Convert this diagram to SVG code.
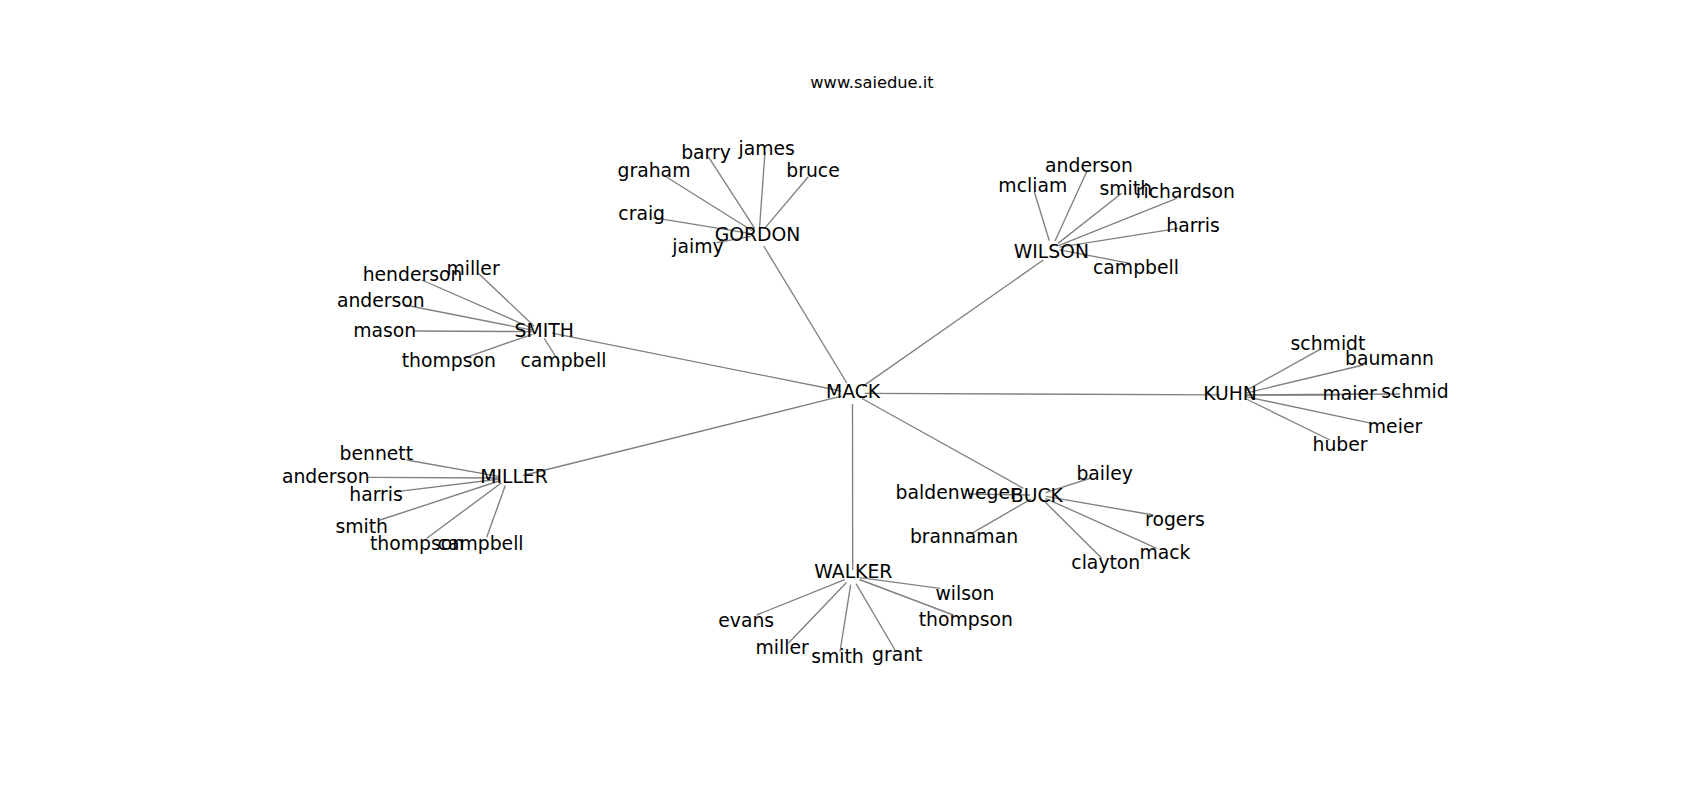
<svg xmlns="http://www.w3.org/2000/svg" width="1700" height="800" viewBox="0 0 1700 800">
<style>
.e{stroke:#808080;stroke-width:1.35;fill:none;stroke-linecap:butt}
.t{font-family:"DejaVu Sans",Verdana,sans-serif;font-size:18.8px;fill:#000;text-anchor:middle}
.title{font-family:"DejaVu Sans",Verdana,sans-serif;font-size:16.3px;fill:#000;text-anchor:middle}
</style>
<rect width="1700" height="800" fill="#fff"/>
<text class="title" x="872" y="88.3">www.saiedue.it</text>
<g id="edges">
<!-- MACK hub -->
<line class="e" x1="846.8" y1="383" x2="763.7" y2="246"/>
<line class="e" x1="862.8" y1="386.4" x2="1043.3" y2="260"/>
<line class="e" x1="841.2" y1="391" x2="552" y2="333.2"/>
<line class="e" x1="865" y1="393.4" x2="1220" y2="394.8"/>
<line class="e" x1="841.4" y1="396.2" x2="523" y2="475.5"/>
<line class="e" x1="862" y1="398.5" x2="1023.3" y2="488.3"/>
<line class="e" x1="852.5" y1="404" x2="852.7" y2="570"/>
<!-- GORDON -->
<line class="e" x1="752.2" y1="230.8" x2="663.3" y2="175"/>
<line class="e" x1="754.7" y1="228.3" x2="708.3" y2="156.7"/>
<line class="e" x1="759.6" y1="227" x2="765" y2="151.7"/>
<line class="e" x1="764.2" y1="228.9" x2="808.3" y2="176.7"/>
<line class="e" x1="751.1" y1="233.7" x2="653" y2="217.7"/>
<line class="e" x1="751.1" y1="236.4" x2="716.7" y2="242.7"/>
<!-- WILSON -->
<line class="e" x1="1055" y1="241" x2="1086.7" y2="171.7"/>
<line class="e" x1="1049.3" y1="240.7" x2="1034.3" y2="191.7"/>
<line class="e" x1="1058" y1="243.4" x2="1121.7" y2="193.3"/>
<line class="e" x1="1059.1" y1="245.3" x2="1176.7" y2="198.3"/>
<line class="e" x1="1059.6" y1="247.1" x2="1178.3" y2="228.3"/>
<line class="e" x1="1059.6" y1="249.8" x2="1130" y2="263.3"/>
<!-- SMITH -->
<line class="e" x1="532.7" y1="328.5" x2="421.7" y2="280"/>
<line class="e" x1="534.2" y1="326.2" x2="478.3" y2="273.3"/>
<line class="e" x1="532.2" y1="330.1" x2="405" y2="305"/>
<line class="e" x1="532" y1="331.6" x2="413.3" y2="331"/>
<line class="e" x1="532.4" y1="334.3" x2="463.3" y2="358.3"/>
<line class="e" x1="544.3" y1="338.5" x2="560" y2="363.3"/>
<!-- KUHN -->
<line class="e" x1="1245" y1="391.1" x2="1320" y2="349.3"/>
<line class="e" x1="1245.8" y1="393.1" x2="1363.3" y2="365"/>
<line class="e" x1="1246" y1="395" x2="1340" y2="395"/>
<line class="e" x1="1246" y1="394.9" x2="1400" y2="394"/>
<line class="e" x1="1245.8" y1="396.7" x2="1371.7" y2="423.3"/>
<line class="e" x1="1245.2" y1="398.5" x2="1330" y2="440"/>
<!-- MILLER -->
<line class="e" x1="500.1" y1="476.6" x2="406.7" y2="460"/>
<line class="e" x1="500" y1="478" x2="368.3" y2="477.3"/>
<line class="e" x1="500.1" y1="479" x2="396.7" y2="491.7"/>
<line class="e" x1="500.4" y1="480.5" x2="380" y2="520"/>
<line class="e" x1="501.6" y1="482.8" x2="426.7" y2="538.3"/>
<line class="e" x1="505.3" y1="485.5" x2="486.7" y2="537.3"/>
<!-- BUCK -->
<line class="e" x1="1045.6" y1="492.6" x2="1091" y2="478"/>
<line class="e" x1="1030" y1="495" x2="968" y2="494"/>
<line class="e" x1="1045.9" y1="496.4" x2="1153.3" y2="515"/>
<line class="e" x1="1031.1" y1="499" x2="971.7" y2="533.3"/>
<line class="e" x1="1045.3" y1="498.3" x2="1156.7" y2="548.3"/>
<line class="e" x1="1043.7" y1="500.6" x2="1101.7" y2="558.3"/>
<!-- WALKER -->
<line class="e" x1="859.9" y1="577.7" x2="940" y2="588.3"/>
<line class="e" x1="844.6" y1="579.7" x2="756.7" y2="615"/>
<line class="e" x1="859.5" y1="579.5" x2="953.3" y2="615"/>
<line class="e" x1="846.5" y1="582.5" x2="788.3" y2="643.3"/>
<line class="e" x1="850.7" y1="584.6" x2="840" y2="651.7"/>
<line class="e" x1="856" y1="583.6" x2="895" y2="650"/>
</g>
<g id="n-mack"><text class="t" x="853" y="398.3">MACK</text></g>
<g id="n-gordon"><text class="t" x="757.5" y="240.7">GORDON</text></g>
<g id="n-gordon-graham"><text class="t" x="654" y="176.7">graham</text></g>
<g id="n-gordon-barry"><text class="t" x="706" y="159.3">barry</text></g>
<g id="n-gordon-james"><text class="t" x="766.7" y="155">james</text></g>
<g id="n-gordon-bruce"><text class="t" x="813" y="177.3">bruce</text></g>
<g id="n-gordon-craig"><text class="t" x="641.7" y="220">craig</text></g>
<g id="n-gordon-jaimy"><text class="t" x="698" y="253.3">jaimy</text></g>
<g id="n-wilson"><text class="t" x="1051.3" y="258.3">WILSON</text></g>
<g id="n-wilson-anderson"><text class="t" x="1089" y="171.7">anderson</text></g>
<g id="n-wilson-mcliam"><text class="t" x="1032.8" y="192.3">mcliam</text></g>
<g id="n-wilson-smith"><text class="t" x="1125.8" y="195">smith</text></g>
<g id="n-wilson-richardson"><text class="t" x="1185.4" y="198.3">richardson</text></g>
<g id="n-wilson-harris"><text class="t" x="1193" y="231.7">harris</text></g>
<g id="n-wilson-campbell"><text class="t" x="1136" y="274">campbell</text></g>
<g id="n-smith"><text class="t" x="544.2" y="336.7">SMITH</text></g>
<g id="n-smith-henderson"><text class="t" x="412.5" y="280.7">henderson</text></g>
<g id="n-smith-miller"><text class="t" x="473" y="275">miller</text></g>
<g id="n-smith-anderson"><text class="t" x="380.8" y="306.7">anderson</text></g>
<g id="n-smith-mason"><text class="t" x="384.7" y="336.7">mason</text></g>
<g id="n-smith-thompson"><text class="t" x="448.8" y="366.7">thompson</text></g>
<g id="n-smith-campbell"><text class="t" x="563.5" y="366.7">campbell</text></g>
<g id="n-kuhn"><text class="t" x="1230" y="400">KUHN</text></g>
<g id="n-kuhn-schmidt"><text class="t" x="1328" y="350">schmidt</text></g>
<g id="n-kuhn-baumann"><text class="t" x="1389.5" y="365">baumann</text></g>
<g id="n-kuhn-maier"><text class="t" x="1349.7" y="400">maier</text></g>
<g id="n-kuhn-schmid"><text class="t" x="1415" y="398.3">schmid</text></g>
<g id="n-kuhn-meier"><text class="t" x="1395" y="432.7">meier</text></g>
<g id="n-kuhn-huber"><text class="t" x="1340" y="451">huber</text></g>
<g id="n-miller"><text class="t" x="514" y="483.3">MILLER</text></g>
<g id="n-miller-bennett"><text class="t" x="376.3" y="460">bennett</text></g>
<g id="n-miller-anderson"><text class="t" x="325.8" y="483.3">anderson</text></g>
<g id="n-miller-harris"><text class="t" x="376" y="501">harris</text></g>
<g id="n-miller-smith"><text class="t" x="361.7" y="533.3">smith</text></g>
<g id="n-miller-thompson"><text class="t" x="417" y="549.6">thompson</text></g>
<g id="n-miller-campbell"><text class="t" x="480.6" y="549.6">campbell</text></g>
<g id="n-buck"><text class="t" x="1036.8" y="501.7">BUCK</text></g>
<g id="n-buck-bailey"><text class="t" x="1104.7" y="480">bailey</text></g>
<g id="n-buck-baldenweger"><text class="t" x="956.7" y="499">baldenweger</text></g>
<g id="n-buck-brannaman"><text class="t" x="964" y="543.3">brannaman</text></g>
<g id="n-buck-rogers"><text class="t" x="1175" y="526">rogers</text></g>
<g id="n-buck-mack"><text class="t" x="1165" y="559">mack</text></g>
<g id="n-buck-clayton"><text class="t" x="1105.8" y="569">clayton</text></g>
<g id="n-walker"><text class="t" x="853.3" y="578.3">WALKER</text></g>
<g id="n-walker-wilson"><text class="t" x="965" y="600">wilson</text></g>
<g id="n-walker-evans"><text class="t" x="746.2" y="626.7">evans</text></g>
<g id="n-walker-thompson"><text class="t" x="965.8" y="626">thompson</text></g>
<g id="n-walker-miller"><text class="t" x="782.2" y="654">miller</text></g>
<g id="n-walker-smith"><text class="t" x="837.5" y="663.3">smith</text></g>
<g id="n-walker-grant"><text class="t" x="897.2" y="660.7">grant</text></g>
</svg>
